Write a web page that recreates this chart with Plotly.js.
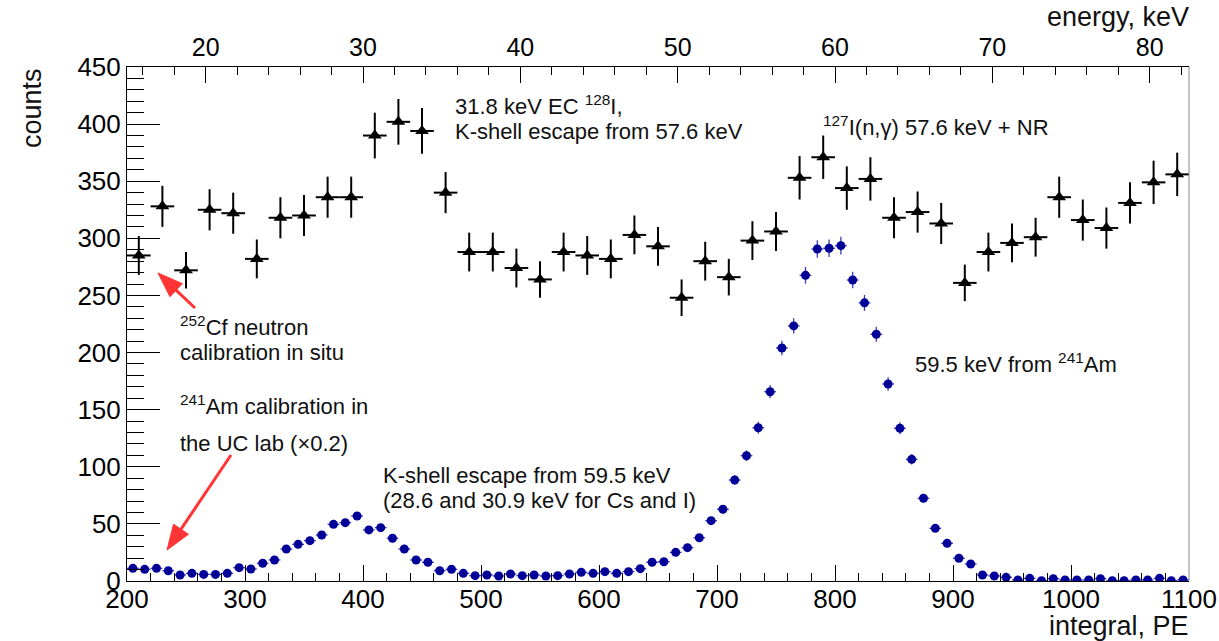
<!DOCTYPE html>
<html>
<head>
<meta charset="utf-8">
<script src="https://cdn.plot.ly/plotly-3.0.1.min.js"></script>
<style>
  html, body { margin: 0; padding: 0; background: #ffffff; }
  #chart { width: 1219px; height: 641px; }
</style>
</head>
<body>
<div id="chart"></div>
<script>
// 252Cf neutron calibration in situ: 20 PE bins
const cfBins = [210, 230, 250, 270, 290, 310, 330, 350, 370, 390,
                410, 430, 450, 470, 490, 510, 530, 550, 570, 590,
                610, 630, 650, 670, 690, 710, 730, 750, 770, 790,
                810, 830, 850, 870, 890, 910, 930, 950, 970, 990,
                1010, 1030, 1050, 1070, 1090];
const cfCounts = [285, 328, 272, 325, 322, 282, 318, 320, 336, 336,
                  390, 402, 394, 340, 288, 288, 274, 264, 288, 285,
                  282, 303, 293, 248, 280, 266, 298, 306, 353, 371,
                  344, 352, 318, 323, 313, 261, 288, 296, 301, 336,
                  316, 309, 331, 349, 356];
const cfErr = [17, 18, 16, 18, 18, 17, 18, 18, 18, 18,
               20, 20, 20, 18, 17, 17, 17, 16, 17, 17,
               17, 17, 17, 16, 17, 16, 17, 17, 19, 19,
               19, 19, 18, 18, 18, 16, 17, 17, 17, 18,
               18, 18, 18, 19, 19];

// 241Am calibration in the UC lab, scaled x0.2: 10 PE bins
const amBins = [205, 215, 225, 235, 245, 255, 265, 275, 285, 295,
                305, 315, 325, 335, 345, 355, 365, 375, 385, 395,
                405, 415, 425, 435, 445, 455, 465, 475, 485, 495,
                505, 515, 525, 535, 545, 555, 565, 575, 585, 595,
                605, 615, 625, 635, 645, 655, 665, 675, 685, 695,
                705, 715, 725, 735, 745, 755, 765, 775, 785, 795,
                805, 815, 825, 835, 845, 855, 865, 875, 885, 895,
                905, 915, 925, 935, 945, 955, 965, 975, 985, 995,
                1005, 1015, 1025, 1035, 1045, 1055, 1065, 1075, 1085, 1095];
const amCounts = [11.1, 10.2, 11.1, 9.0, 5.3, 6.7, 5.8, 5.8, 6.7, 11.7,
                  10.5, 15.5, 18.4, 28.0, 32.1, 35.3, 40.3, 49.6, 51.1, 56.9,
                  44.7, 46.7, 37.4, 28.0, 18.4, 16.4, 9.0, 10.2, 6.7, 4.7,
                  5.3, 4.4, 6.1, 4.7, 5.3, 4.4, 4.7, 6.1, 7.6, 6.7,
                  8.2, 6.7, 8.2, 10.8, 16.4, 16.9, 25.1, 29.2, 37.9, 52.8,
                  62.8, 88.4, 109.7, 134.2, 165.7, 204.0, 223.3, 267.6, 290.7, 291.3,
                  293.6, 263.5, 243.5, 216.0, 172.5, 133.7, 106.5, 72.4, 46.1, 33.0,
                  19.9, 14.9, 5.3, 4.4, 3.2, 0.9, 2.3, 0.2, 2.0, 0.9,
                  0.9, 0.9, 2.0, 0.3, 0.3, 0.9, 0.9, 2.3, 0.3, 0.9];
const amErr = [1.5, 1.4, 1.5, 1.3, 1.0, 1.2, 1.1, 1.1, 1.2, 1.5,
               1.4, 1.8, 1.9, 2.4, 2.5, 2.7, 2.8, 3.1, 3.2, 3.4,
               3.0, 3.1, 2.7, 2.4, 1.9, 1.8, 1.3, 1.4, 1.2, 1.0,
               1.0, 0.9, 1.1, 1.0, 1.0, 0.9, 1.0, 1.1, 1.2, 1.2,
               1.3, 1.2, 1.3, 1.5, 1.8, 1.8, 2.2, 2.4, 2.8, 3.2,
               3.5, 4.2, 4.7, 5.2, 5.8, 6.4, 6.7, 7.3, 7.6, 7.6,
               7.7, 7.3, 7.0, 6.6, 5.9, 5.2, 4.6, 3.8, 3.0, 2.6,
               2.0, 1.7, 1.0, 0.9, 0.8, 0.4, 0.7, 0.2, 0.6, 0.4,
               0.4, 0.4, 0.6, 0.2, 0.2, 0.4, 0.4, 0.7, 0.2, 0.4];

const cfBinWidth = 20;
const amBinWidth = 10;

// axis ranges and the PE -> keV calibration used for the top axis
const peRange = [200, 1100];
const countsRange = [0, 450];
const keVPerPE = 0.075;
const keVRange = [peRange[0] * keVPerPE, peRange[1] * keVPerPE];

const FONT = 'Liberation Sans, Arial, Helvetica, sans-serif';
const W = 1219, H = 641;
const M = { l: 127, r: 30, t: 67, b: 60 };
const PW = W - M.l - M.r, PH = H - M.t - M.b;
const fx = X => (X - M.l) / PW;
const fy = Y => (H - M.b - Y) / PH;

const traces = [
  {
    type: 'scatter', mode: 'markers', name: '241Am',
    x: amBins, y: amCounts,
    marker: { symbol: 'circle', size: 9, color: '#000099' },
    error_x: { type: 'constant', value: amBinWidth / 2, width: 0, thickness: 1.3, color: '#3a3ab8' },
    error_y: { type: 'data', array: amErr, width: 0, thickness: 1.3, color: '#3a3ab8' },
    cliponaxis: true, hoverinfo: 'x+y'
  },
  {
    type: 'scatter', mode: 'markers', name: '252Cf',
    x: cfBins, y: cfCounts,
    marker: { symbol: 'triangle-up', size: 12, color: '#000000' },
    error_x: { type: 'constant', value: cfBinWidth / 2, width: 0, thickness: 2, color: '#000000' },
    error_y: { type: 'data', array: cfErr, width: 0, thickness: 2, color: '#000000' },
    cliponaxis: true, hoverinfo: 'x+y'
  },
  // empty trace that attaches the energy axis
  { type: 'scatter', x: [], y: [], xaxis: 'x2', yaxis: 'y', showlegend: false, hoverinfo: 'skip' }
];

function label(text, X, baseline, size, anchor) {
  size = size || 22;
  return {
    xref: 'paper', yref: 'paper',
    x: fx(X), y: fy(baseline + 0.212 * size),
    xanchor: anchor || 'left', yanchor: 'bottom',
    text: text, showarrow: false, borderpad: 0,
    font: { family: FONT, size: size, color: '#111111' }
  };
}

// red arrow: a line plus a filled head, given tail and tip in pixels
function arrow(sx, sy, tx, ty) {
  const L = 25, HW = 9;
  const dx = tx - sx, dy = ty - sy, d = Math.hypot(dx, dy);
  const ux = dx / d, uy = dy / d;
  const bx = tx - ux * L, by = ty - uy * L;
  const nx = -uy, ny = ux;
  const col = '#ff3434';
  return [
    { type: 'line', xref: 'paper', yref: 'paper',
      x0: fx(sx), y0: fy(sy), x1: fx(bx + ux * 2), y1: fy(by + uy * 2),
      line: { color: col, width: 3 } },
    { type: 'path', xref: 'paper', yref: 'paper',
      path: `M ${fx(tx)} ${fy(ty)} L ${fx(bx + nx * HW)} ${fy(by + ny * HW)} L ${fx(bx - nx * HW)} ${fy(by - ny * HW)} Z`,
      fillcolor: col, line: { color: col, width: 1 } }
  ];
}

const annotations = [
  label('31.8 keV EC <sup>128</sup>I,', 454, 115),
  label('K-shell escape from 57.6 keV', 454, 140),
  label('<sup>127</sup>I(n,\u03b3) 57.6 keV + NR', 822, 136),
  label('<sup>252</sup>Cf neutron', 179, 336),
  label('calibration in situ', 179, 361),
  label('<sup>241</sup>Am calibration in', 179, 415),
  label('the UC lab (\u00d70.2)', 179, 452),
  label('K-shell escape from 59.5 keV', 382, 484),
  label('(28.6 and 30.9 keV for Cs and I)', 382, 509),
  label('59.5 keV from <sup>241</sup>Am', 914, 373),
  label('energy, keV', 1190, 27, 27, 'right'),
  label('integral, PE', 1190, 636, 27, 'right'),
  {
    xref: 'paper', yref: 'paper', x: fx(48), y: fy(67),
    xanchor: 'right', yanchor: 'top', textangle: -90,
    text: 'counts', showarrow: false, borderpad: 0,
    font: { family: FONT, size: 27, color: '#111111' }
  }
];

const shapes = [
  // right edge of the frame
  { type: 'line', xref: 'paper', yref: 'paper', x0: 1, x1: 1, y0: 0, y1: 1,
    line: { color: '#8a8a8a', width: 1 } },
  ...arrow(195, 308, 158, 273),
  ...arrow(231, 455, 167, 550)
];

const tickFont = { family: FONT, size: 26, color: '#000000' };

const layout = {
  width: W, height: H,
  margin: M,
  paper_bgcolor: '#ffffff', plot_bgcolor: '#ffffff',
  showlegend: false,
  font: { family: FONT, color: '#000000' },
  xaxis: {
    range: peRange, tick0: 0, dtick: 100,
    ticks: 'inside', ticklen: 16, tickwidth: 1, tickcolor: '#000000',
    minor: { ticks: 'inside', dtick: 20, ticklen: 8, tickwidth: 1, tickcolor: '#000000', showgrid: false },
    showline: true, linecolor: '#000000', linewidth: 1,
    showgrid: false, zeroline: false, tickfont: tickFont,
    ticklabelstandoff: -5
  },
  xaxis2: {
    overlaying: 'x', side: 'top', anchor: 'y',
    range: keVRange, tick0: 0, dtick: 10,
    ticks: 'inside', ticklen: 16, tickwidth: 1, tickcolor: '#000000',
    minor: { ticks: 'inside', dtick: 2, ticklen: 8, tickwidth: 1, tickcolor: '#000000', showgrid: false },
    showline: true, linecolor: '#000000', linewidth: 1,
    showgrid: false, zeroline: false,
    tickfont: { family: FONT, size: 25, color: '#000000' }
  },
  yaxis: {
    range: countsRange, tick0: 0, dtick: 50,
    ticks: 'inside', ticklen: 33, tickwidth: 1, tickcolor: '#000000',
    minor: { ticks: 'inside', dtick: 10, ticklen: 17, tickwidth: 1, tickcolor: '#000000', showgrid: false },
    showline: true, linecolor: '#000000', linewidth: 1,
    showgrid: false, zeroline: false, tickfont: tickFont
  },
  annotations: annotations,
  shapes: shapes
};

Plotly.newPlot('chart', traces, layout, { staticPlot: true, displayModeBar: false });
</script>
</body>
</html>
